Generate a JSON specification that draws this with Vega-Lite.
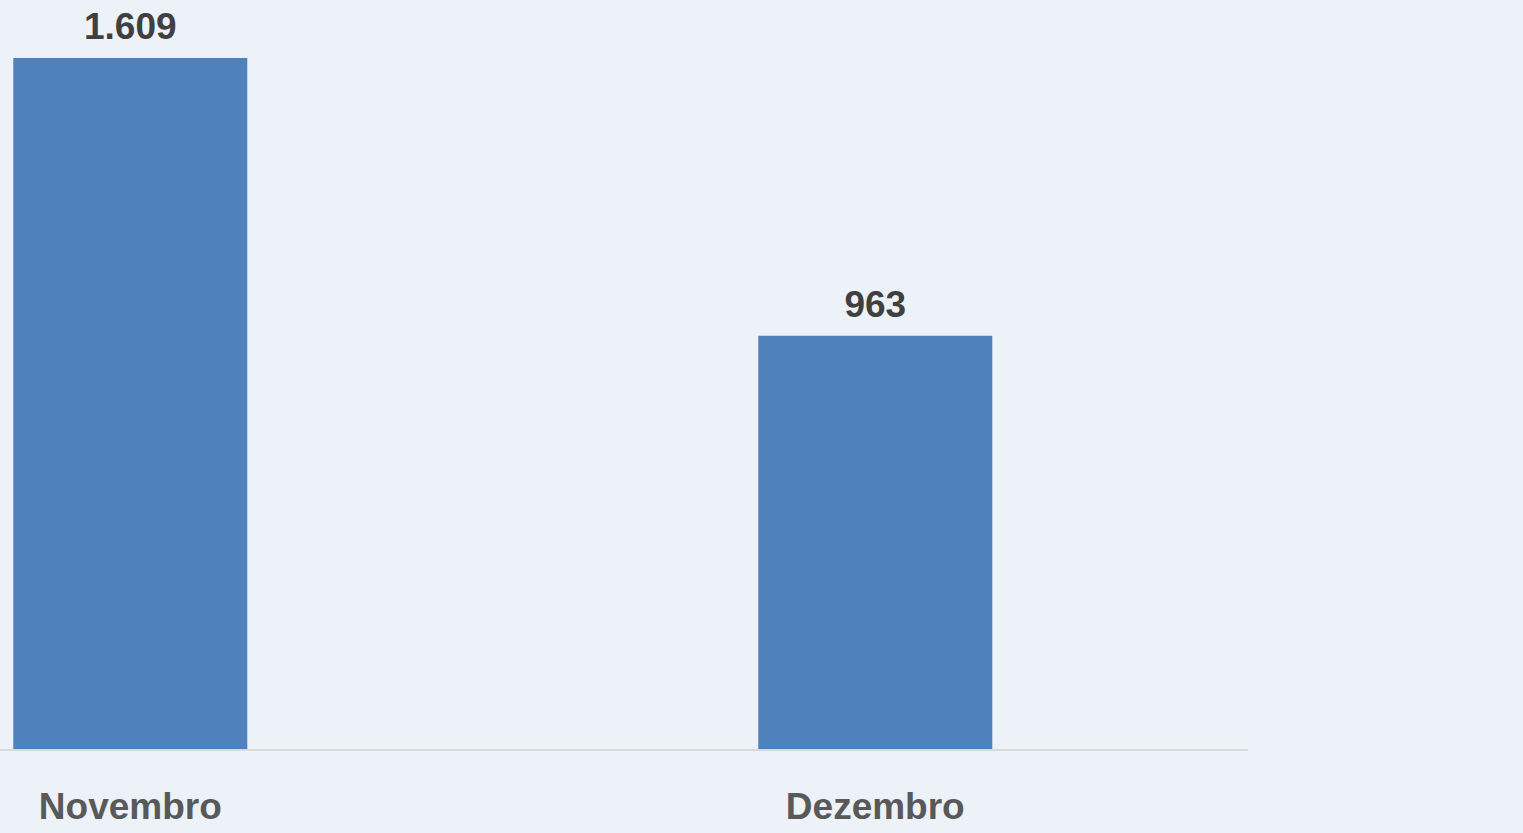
{
  "$schema": "https://vega.github.io/schema/vega-lite/v6.json",
  "width": 1248,
  "height": 750,
  "autosize": {"type": "none"},
  "padding": {"left": 0, "top": 0, "right": 275, "bottom": 83},
  "background": "#EDF1F8",
  "config": {
    "view": {"stroke": null},
    "locale": {"number": {"decimal": ",", "thousands": ".", "grouping": [3], "currency": ["R$", ""]}}
  },
  "data": {"values": [
    {"mes": "Novembro", "valor": 1609},
    {"mes": "Dezembro", "valor": 963}
  ]},
  "encoding": {
    "x": {
      "field": "mes", "type": "nominal", "sort": null,
      "scale": {"paddingInner": 0.6859, "paddingOuter": 0.18054, "align": 0.0494},
      "axis": {
        "title": null, "ticks": false, "labelAngle": 0, "domain": false,
        "labelFont": "Liberation Sans", "labelFontSize": 37, "labelFontWeight": "bold",
        "labelColor": "#595959", "labelBaseline": "alphabetic", "labelPadding": 68,
        "labelLimit": 0, "labelOverlap": false, "labelBound": false
      }
    },
    "y": {
      "field": "valor", "type": "quantitative",
      "scale": {"domain": [0, 1744], "nice": false},
      "axis": null
    }
  },
  "layer": [
    {"mark": {"type": "bar", "color": "#4F81BD"}},
    {
      "mark": {"type": "text", "font": "Liberation Sans", "fontSize": 37, "fontWeight": "bold", "color": "#404040", "baseline": "alphabetic", "dy": -19},
      "encoding": {"text": {"field": "valor", "type": "quantitative", "format": ",d"}}
    },
    {
      "mark": {"type": "rule", "color": "#D9D9D9", "strokeWidth": 2},
      "encoding": {"x": null, "y": {"datum": 0}}
    }
  ]
}
